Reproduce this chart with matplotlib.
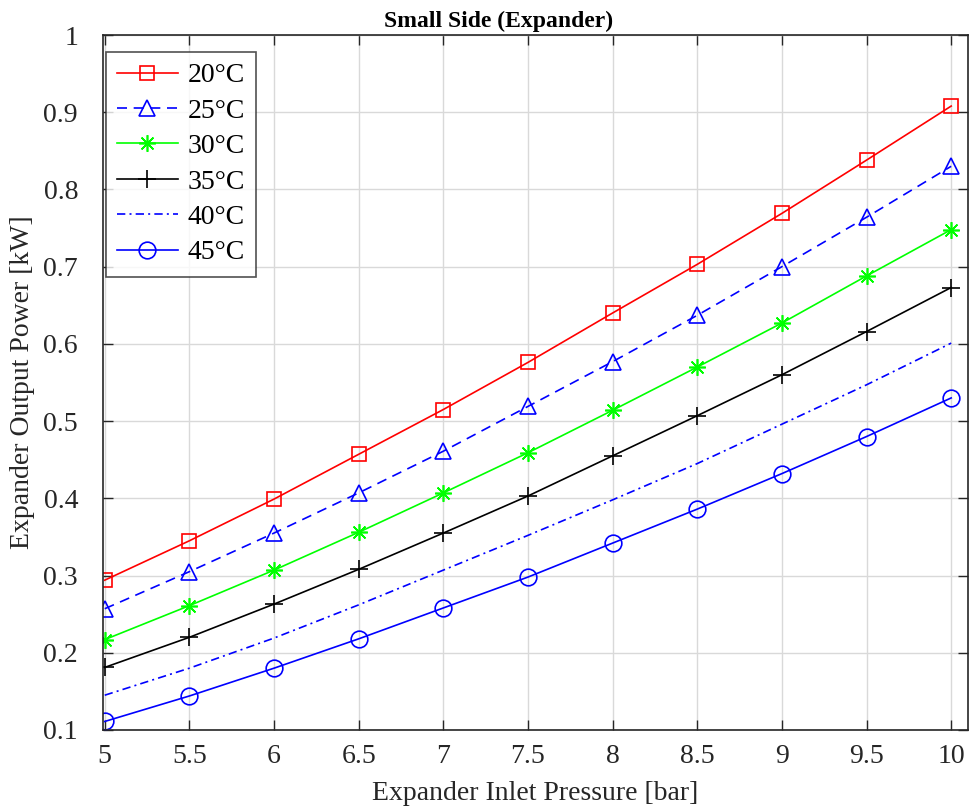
import matplotlib
matplotlib.use("Agg")
import matplotlib.pyplot as plt

# expander inlet pressure, bar
pressure = [5, 5.5, 6, 6.5, 7, 7.5, 8, 8.5, 9, 9.5, 10]

# expander output power, kW, for each condensing temperature
power_20 = [0.294, 0.345, 0.399, 0.457, 0.515, 0.576, 0.640, 0.703, 0.769, 0.838, 0.908]
power_25 = [0.257, 0.305, 0.355, 0.407, 0.461, 0.519, 0.577, 0.637, 0.700, 0.764, 0.830]
power_30 = [0.217, 0.261, 0.307, 0.356, 0.407, 0.459, 0.514, 0.570, 0.627, 0.688, 0.748]
power_35 = [0.181, 0.220, 0.263, 0.308, 0.355, 0.403, 0.455, 0.507, 0.560, 0.616, 0.673]
power_40 = [0.145, 0.180, 0.219, 0.262, 0.307, 0.352, 0.398, 0.445, 0.496, 0.547, 0.601]
power_45 = [0.111, 0.144, 0.180, 0.218, 0.258, 0.298, 0.342, 0.386, 0.432, 0.480, 0.530]

labels = ["20°C", "25°C", "30°C", "35°C", "40°C", "45°C"]
x_ticks = [5, 5.5, 6, 6.5, 7, 7.5, 8, 8.5, 9, 9.5, 10]
y_ticks = [0.1, 0.2, 0.3, 0.4, 0.5, 0.6, 0.7, 0.8, 0.9, 1.0]

plt.rcParams["font.family"] = ["Liberation Serif", "DejaVu Serif"]

fig = plt.figure(figsize=(9.72, 8.09), dpi=100)
ax = fig.add_axes([0.106, 0.0977, 0.89, 0.859])

lw = 1.2
ax.plot(pressure, power_20, color="#ff0000", lw=lw, marker="s", ms=10,
        mfc="none", mew=1.2, label=labels[0])
ax.plot(pressure, power_25, color="#0000ff", lw=lw, ls=(0, (6, 4)), marker="^", ms=12,
        mfc="none", mew=1.2, label=labels[1])
ax.plot(pressure, power_30, color="#00ff00", lw=lw, marker=(8, 2, 0), ms=12,
        mew=1.2, label=labels[2])
ax.plot(pressure, power_35, color="black", lw=lw, marker="+", ms=13,
        mew=1.2, label=labels[3])
ax.plot(pressure, power_40, color="#0000ff", lw=lw, ls=(0, (5, 2.5, 1.2, 2.5)),
        label=labels[4])
ax.plot(pressure, power_45, color="#0000ff", lw=lw, marker="o", ms=12,
        mfc="none", mew=1.2, label=labels[5])

ax.set_xlim(4.99, 10.1)
ax.set_ylim(0.1, 1.0)
ax.set_xticks(x_ticks)
ax.set_xticklabels(["5", "5.5", "6", "6.5", "7", "7.5", "8", "8.5", "9", "9.5", "10"])
ax.set_yticks(y_ticks)
ax.set_yticklabels(["0.1", "0.2", "0.3", "0.4", "0.5", "0.6", "0.7", "0.8", "0.9", "1"])

ax.grid(True, color="#d9d9d9", lw=1.0)
ax.set_axisbelow(True)
ax.tick_params(direction="in", top=True, right=True, length=7, width=1.0,
               labelsize=20, colors="#262626")
ax.tick_params(axis="x", pad=10)
ax.tick_params(axis="y", pad=18)
for s in ax.spines.values():
    s.set_color("#262626")
    s.set_linewidth(1.2)

ax.set_xlabel("Expander Inlet Pressure [bar]", fontsize=20, color="#262626", labelpad=9)
ax.set_ylabel("Expander Output Power [kW]", fontsize=20, color="#262626", labelpad=6)
ax.set_title("Small Side (Expander)", fontsize=17, fontweight="bold", pad=6, x=0.457)

leg = ax.legend(loc="upper left", bbox_to_anchor=(0.0, 0.98), fontsize=20,
                frameon=True, fancybox=False, edgecolor="#262626",
                handlelength=2.2, handletextpad=0.35, labelspacing=0.36,
                borderpad=0.4, borderaxespad=0.1)
leg.get_frame().set_linewidth(1.2)

fig.savefig("out.png", dpi=100)
